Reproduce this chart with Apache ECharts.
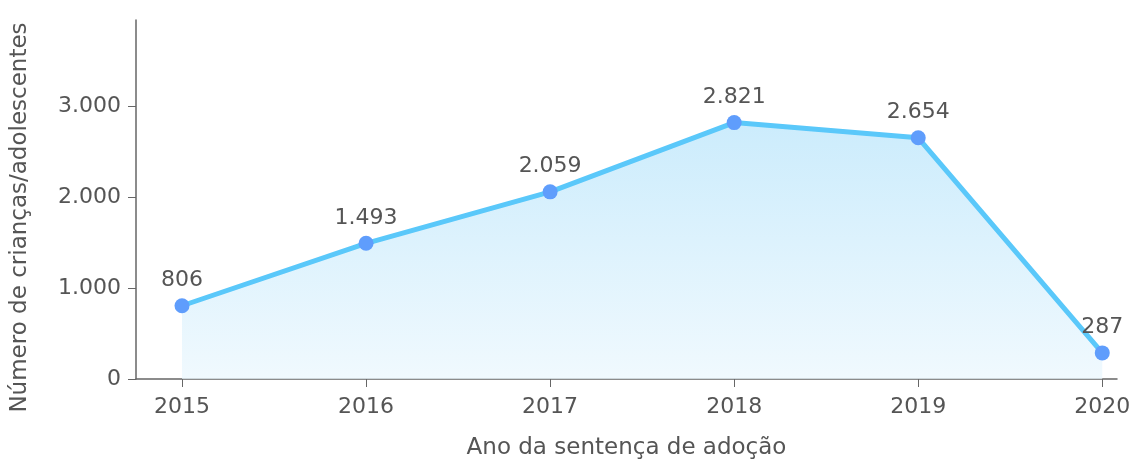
<!DOCTYPE html>
<html>
<head>
<meta charset="utf-8">
<script src="https://cdn.jsdelivr.net/npm/echarts@6/dist/echarts.min.js"></script>
<style>
  html, body { margin: 0; padding: 0; background: #fff; }
  #chart { width: 1146px; height: 463px; }
</style>
</head>
<body>
<div id="chart"></div>
<script>
// anos e número de crianças/adolescentes adotados
const years = [2015, 2016, 2017, 2018, 2019, 2020]
const adoptions = [806, 1493, 2059, 2821, 2654, 287]
const yTicks = [0, 1000, 2000, 3000]

const fontFamily = '"DejaVu Sans", "Noto Sans", sans-serif'
const textColor = '#555'

// separador de milhar em português
function fmt (v) {
  return String(v).replace(/\B(?=(\d{3})+(?!\d))/g, '.')
}

const chart = echarts.init(document.getElementById('chart'))

const option = {
  animation: false,
  grid: { left: 136, right: 29, top: 20, bottom: 84, containLabel: false, outerBoundsMode: 'none' },
  xAxis: {
    type: 'value',
    min: 2014.75,
    max: 2020.08,
    name: 'Ano da sentença de adoção',
    nameLocation: 'middle',
    nameGap: 58,
    nameTextStyle: { color: textColor, fontSize: 23, fontFamily },
    axisLine: { lineStyle: { color: '#666', width: 1.5 } },
    axisTick: { show: true, length: 8, customValues: years, lineStyle: { color: '#666' } },
    axisLabel: {
      customValues: years,
      color: textColor,
      fontSize: 22,
      fontFamily,
      margin: 17,
      formatter: v => String(v)
    },
    splitLine: { show: false }
  },
  yAxis: {
    type: 'value',
    min: 0,
    max: 3950,
    name: 'Número de crianças/adolescentes',
    nameLocation: 'middle',
    nameGap: 104,
    nameTextStyle: { color: textColor, fontSize: 23, fontFamily, padding: [0, 36, 0, 0] },
    axisLine: { show: true, lineStyle: { color: '#666', width: 1.5 } },
    axisTick: { show: true, length: 8, customValues: yTicks, lineStyle: { color: '#666' } },
    axisLabel: {
      customValues: yTicks,
      color: textColor,
      fontSize: 22,
      fontFamily,
      margin: 15,
      formatter: v => fmt(v)
    },
    splitLine: { show: false }
  },
  series: [
    {
      type: 'line',
      data: years.map((y, i) => [y, adoptions[i]]),
      symbol: 'circle',
      symbolSize: 15,
      itemStyle: { color: '#5f9dfc' },
      lineStyle: { color: '#5ac8fa', width: 5 },
      areaStyle: {
        color: new echarts.graphic.LinearGradient(0, 0, 0, 1, [
          { offset: 0, color: '#b5e3fa' },
          { offset: 1, color: '#e9f6fd' }
        ])
      },
      label: {
        show: true,
        position: 'top',
        distance: 7,
        color: textColor,
        fontSize: 22,
        fontFamily,
        formatter: p => fmt(p.value[1])
      }
    }
  ]
}

chart.setOption(option)
</script>
</body>
</html>
